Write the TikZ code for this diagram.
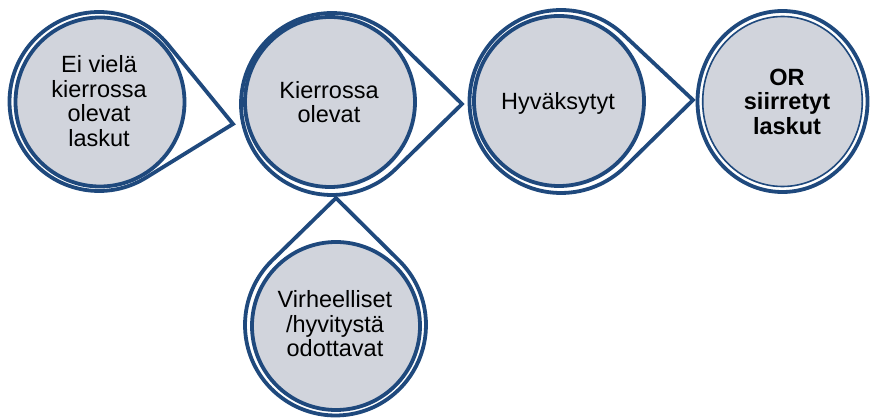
\documentclass[tikz,border=0pt]{standalone}
\usepackage{fontspec}
\setmainfont{Liberation Sans}
\usetikzlibrary{calc}
\definecolor{ringblue}{HTML}{1F497D}
\definecolor{discgray}{HTML}{D1D4DC}
\tikzset{
  ringline/.style={draw=ringblue, line width=3.8pt},
  outerring/.style={ringline, fill=white},
  discfill/.style={ringline, fill=discgray},
  thinring/.style={draw=ringblue, line width=1.6pt},
  txt/.style={align=center, font=\fontsize{23.5}{24.5}\selectfont, inner sep=0pt, text=black},
}
\newcommand{\teardrop}[3]{%
  \draw[outerring] let \p1=($(#3)-(#1)$),
     \n1={atan2(\y1,\x1)},
     \n2={acos(#2/veclen(\x1,\y1))},
     \n3={\n1+\n2}, \n4={\n1-\n2+360} in
     ($(#1)+(\n3:#2)$) arc[start angle=\n3, end angle=\n4, radius=#2] -- (#3) -- cycle;
}
\begin{document}
\begin{tikzpicture}[x=1pt,y=1pt]
\useasboundingbox (0,0) rectangle (871,418);
% centres and tips
\coordinate (o1) at (99,316.5);   \coordinate (p1) at (233,294);
\coordinate (o2) at (332,314);    \coordinate (p2) at (462,314);
\coordinate (o3) at (561,316.5);  \coordinate (p3) at (693,318);
\coordinate (o5) at (335.5,93);   \coordinate (p5) at (336,220);
% bottom shape
\teardrop{o5}{90.5}{p5}
\draw[discfill] (336,92) circle[radius=84];
\node[txt] (t5) at (335,94) {Virheelliset\\/hyvitystä\\odottavat};
% first
\teardrop{o1}{89.5}{p1}
\draw[discfill] (100,316) circle[radius=84.5];
\node[txt] (t1) at (99,317) {Ei vielä\\kierrossa\\olevat\\laskut};
% second
\teardrop{o2}{91}{p2}
\draw[discfill] (330,316) circle[radius=85];
\node[txt] (t2) at (329,316) {Kierrossa\\olevat};
% third
\teardrop{o3}{91.5}{p3}
\draw[discfill] (559,317) circle[radius=85];
\node[txt] (t3) at (558,315) {Hyväksytyt};
% fourth
\draw[ringline, fill=white] (782.5,316.5) ellipse[x radius=85, y radius=90.5];
\draw[thinring, fill=discgray] (782.5,316.5) ellipse[x radius=79.8, y radius=85];
\node[txt, font=\fontsize{23.5}{24.5}\selectfont\bfseries] (t4) at (787,316.5) {OR\\siirretyt\\laskut};
\end{tikzpicture}
\end{document}
